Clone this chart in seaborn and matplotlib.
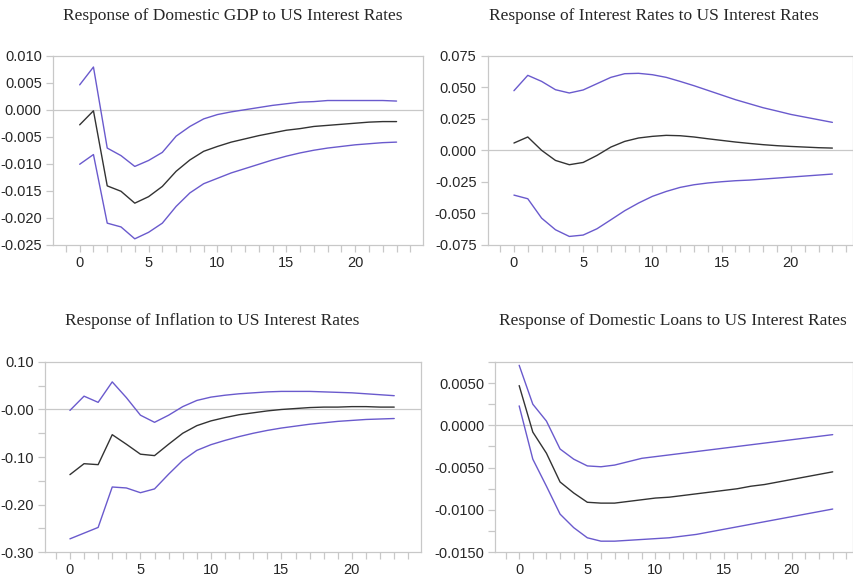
import matplotlib
matplotlib.use('Agg')
import matplotlib.pyplot as plt
from matplotlib.ticker import MultipleLocator
import numpy as np
import pandas as pd
import seaborn as sns

horizon = list(range(24))

# Response of Domestic GDP
gdp_upper = [0.0046, 0.0079, -0.0071, -0.0085, -0.0105, -0.0094, -0.0079, -0.0049, -0.0031, -0.0017,
             -0.0009, -0.0004, 0.0000, 0.0004, 0.0008, 0.0011, 0.0014, 0.0015, 0.0017, 0.0017,
             0.0017, 0.0017, 0.0017, 0.0016]
gdp_mid = [-0.0028, -0.0002, -0.0141, -0.0151, -0.0173, -0.0161, -0.0142, -0.0114, -0.0093, -0.0077,
           -0.0068, -0.0060, -0.0054, -0.0048, -0.0043, -0.0038, -0.0035, -0.0031, -0.0029, -0.0027,
           -0.0025, -0.0023, -0.0022, -0.0022]
gdp_lower = [-0.0101, -0.0083, -0.0210, -0.0217, -0.0239, -0.0227, -0.0210, -0.0179, -0.0154, -0.0137,
             -0.0127, -0.0117, -0.0109, -0.0101, -0.0093, -0.0086, -0.0080, -0.0075, -0.0071, -0.0068,
             -0.0065, -0.0063, -0.0061, -0.0060]

# Response of Interest Rates
ir_upper = [0.0472, 0.0594, 0.0546, 0.0480, 0.0454, 0.0478, 0.0528, 0.0578, 0.0607, 0.0610,
            0.0599, 0.0578, 0.0546, 0.0512, 0.0475, 0.0438, 0.0401, 0.0369, 0.0337, 0.0311,
            0.0284, 0.0263, 0.0242, 0.0221]
ir_mid = [0.0057, 0.0105, -0.0001, -0.0081, -0.0115, -0.0097, -0.0041, 0.0025, 0.0070, 0.0097,
          0.0110, 0.0118, 0.0115, 0.0105, 0.0091, 0.0078, 0.0065, 0.0054, 0.0044, 0.0036,
          0.0030, 0.0025, 0.0020, 0.0017]
ir_lower = [-0.0356, -0.0385, -0.0539, -0.0631, -0.0684, -0.0673, -0.0623, -0.0552, -0.0480, -0.0419,
            -0.0366, -0.0327, -0.0295, -0.0274, -0.0260, -0.0250, -0.0242, -0.0237, -0.0229, -0.0221,
            -0.0213, -0.0205, -0.0197, -0.0189]

# Response of Inflation
inf_upper = [-0.002, 0.028, 0.015, 0.058, 0.025, -0.012, -0.027, -0.012, 0.006, 0.019,
             0.026, 0.030, 0.033, 0.035, 0.037, 0.038, 0.038, 0.038, 0.037, 0.036,
             0.035, 0.033, 0.031, 0.029]
inf_mid = [-0.137, -0.114, -0.116, -0.053, -0.073, -0.094, -0.097, -0.073, -0.050, -0.034,
           -0.024, -0.017, -0.011, -0.007, -0.003, 0.000, 0.002, 0.004, 0.005, 0.005,
           0.006, 0.006, 0.005, 0.005]
inf_lower = [-0.272, -0.260, -0.248, -0.163, -0.165, -0.175, -0.167, -0.136, -0.107, -0.086,
             -0.074, -0.065, -0.057, -0.050, -0.044, -0.039, -0.035, -0.031, -0.028, -0.025,
             -0.023, -0.021, -0.020, -0.019]

# Response of Domestic Loans
loan_upper = [0.0071, 0.0025, 0.0005, -0.0028, -0.0040, -0.0048, -0.0049, -0.0047, -0.0043, -0.0039,
              -0.0037, -0.0035, -0.0033, -0.0031, -0.0029, -0.0027, -0.0025, -0.0023, -0.0021, -0.0019,
              -0.0017, -0.0015, -0.0013, -0.0011]
loan_mid = [0.0047, -0.0008, -0.0033, -0.0067, -0.0080, -0.0091, -0.0092, -0.0092, -0.0090, -0.0088,
            -0.0086, -0.0085, -0.0083, -0.0081, -0.0079, -0.0077, -0.0075, -0.0072, -0.0070, -0.0067,
            -0.0064, -0.0061, -0.0058, -0.0055]
loan_lower = [0.0023, -0.0040, -0.0072, -0.0105, -0.0121, -0.0133, -0.0137, -0.0137, -0.0136, -0.0135,
              -0.0134, -0.0133, -0.0131, -0.0129, -0.0126, -0.0123, -0.0120, -0.0117, -0.0114, -0.0111,
              -0.0108, -0.0105, -0.0102, -0.0099]

titles = ['Response of Domestic GDP to US Interest Rates',
          'Response of Interest Rates to US Interest Rates',
          'Response of Inflation to US Interest Rates',
          'Response of Domestic Loans to US Interest Rates']

sns.set_style('white')
plt.rcParams['font.family'] = ['Liberation Sans Narrow', 'Liberation Sans', 'DejaVu Sans']

BAND = '#6a5acd'
MID = '#333333'
FRAME = '#c8c8c8'


def panel(fig, rect, upper, mid, lower, ylim, major, minor, fmt, xlim):
    ax = fig.add_axes(rect)
    df = pd.DataFrame({
        'h': horizon * 3,
        'v': upper + mid + lower,
        's': ['upper'] * 24 + ['mid'] * 24 + ['lower'] * 24,
    })
    ax.axhline(0, color=FRAME, lw=0.9, zorder=0)
    sns.lineplot(data=df, x='h', y='v', hue='s', units='s', estimator=None,
                 palette={'upper': BAND, 'mid': MID, 'lower': BAND},
                 lw=1.0, legend=False, ax=ax)
    ax.set_xlim(*xlim)
    ax.set_ylim(*ylim)
    ax.set_xlabel('')
    ax.set_ylabel('')
    ax.xaxis.set_major_locator(MultipleLocator(5))
    ax.xaxis.set_minor_locator(MultipleLocator(1))
    ax.yaxis.set_major_locator(MultipleLocator(major))
    if minor:
        ax.yaxis.set_minor_locator(MultipleLocator(minor))
    ax.yaxis.set_major_formatter(plt.FuncFormatter(lambda v, p: fmt.format(v) if abs(v) > 1e-12 else
                                                   ('-' if fmt == '{:.2f}' else '') + fmt.format(0.0)))
    for s in ax.spines.values():
        s.set_color(FRAME)
        s.set_linewidth(0.9)
    ax.tick_params(which='both', direction='out', color=FRAME, width=0.9, labelsize=10.5,
                   left=True, bottom=True, pad=3)
    ax.tick_params(which='major', length=5)
    ax.tick_params(which='minor', length=5)
    return ax


fig = plt.figure(figsize=(8.54, 5.80), dpi=100)

panel(fig, [0.062, 0.578, 0.433, 0.326], gdp_upper, gdp_mid, gdp_lower,
      (-0.025, 0.010), 0.005, None, '{:.3f}', (-1.94, 24.9))
panel(fig, [0.571, 0.578, 0.428, 0.326], ir_upper, ir_mid, ir_lower,
      (-0.075, 0.075), 0.025, None, '{:.3f}', (-1.9, 24.5))
panel(fig, [0.053, 0.048, 0.440, 0.328], inf_upper, inf_mid, inf_lower,
      (-0.30, 0.10), 0.10, 0.05, '{:.2f}', (-1.75, 24.9))
panel(fig, [0.580, 0.048, 0.419, 0.328], loan_upper, loan_mid, loan_lower,
      (-0.015, 0.0075), 0.005, 0.0025, '{:.4f}', (-1.75, 24.5))

title_pos = [(0.272, 0.972), (0.766, 0.972), (0.249, 0.447), (0.788, 0.447)]
for t, (x, y) in zip(titles, title_pos):
    fig.text(x, y, t, ha='center', va='center', fontsize=12.5, family=['Liberation Serif', 'DejaVu Serif'])

fig.savefig('out.png', dpi=100)
